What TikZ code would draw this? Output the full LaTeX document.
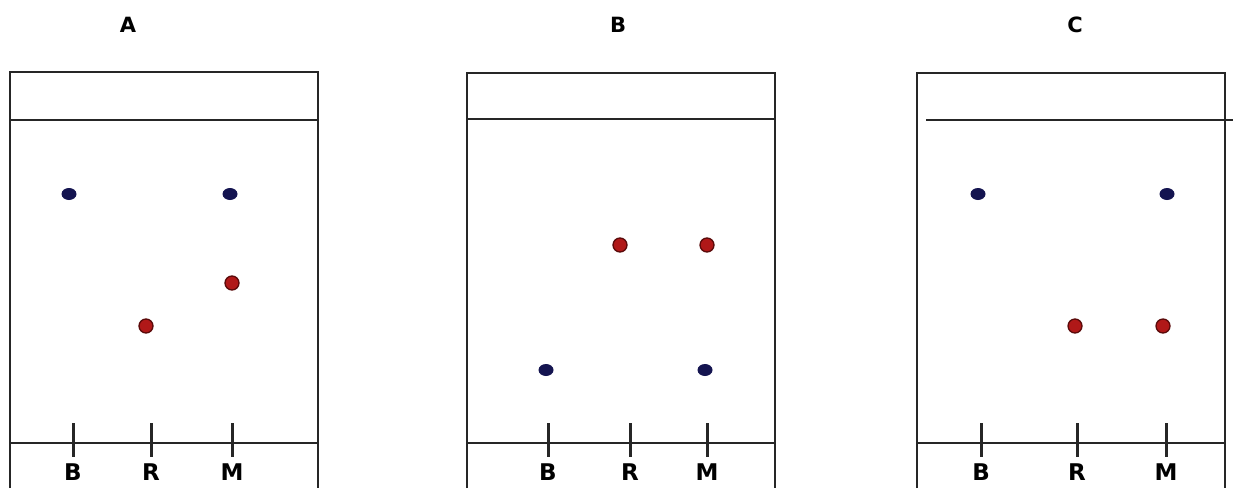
\documentclass[tikz,border=0pt]{standalone}
\usepackage{fontspec}
\setmainfont{DejaVu Sans}
\usetikzlibrary{shapes.geometric}
\definecolor{spotblue}{HTML}{141450}
\definecolor{spotred}{HTML}{B01818}
\definecolor{spotredline}{HTML}{5A0A0A}
\tikzset{
  frame/.style={line width=2.3pt, black!85},
  tick/.style={line width=3pt, black!85},
  lane/.style={font=\bfseries\fontsize{23}{23}\selectfont, inner sep=0pt, anchor=center},
  title/.style={font=\bfseries\fontsize{21}{21}\selectfont, inner sep=0pt, anchor=center},
  bspot/.style={ellipse, fill=spotblue, minimum width=15pt, minimum height=12pt, inner sep=0pt},
  rspot/.style={circle, fill=spotred, draw=spotredline, line width=1.3pt, minimum size=14pt, inner sep=0pt}
}
\begin{document}
\begin{tikzpicture}[x=1pt,y=-1pt]
\useasboundingbox (0,0) rectangle (1233,488);
% ---------- Panel A ----------
\node[title] (tA) at (128,25) {A};
\draw[frame] (10,488) -- (10,72) -- (318,72) -- (318,488);
\draw[frame] (10,120) -- (318,120);
\draw[frame] (10,443) -- (318,443);
\foreach \n/\x/\l in {aB/73/B, aR/151/R, aM/232/M}{
  \node[lane] (\n) at (\x,472) {\l};
  \coordinate (\n t) at (\x,423);
  \draw[tick] (\n t) -- ++(0,34);
}
\node[bspot] (a1) at (69,194) {};
\node[bspot] (a2) at (230,194) {};
\node[rspot] (a3) at (146,326) {};
\node[rspot] (a4) at (232,283) {};
% ---------- Panel B ----------
\node[title] (tB) at (618,25) {B};
\draw[frame] (467,488) -- (467,73) -- (775,73) -- (775,488);
\draw[frame] (467,119) -- (775,119);
\draw[frame] (467,443) -- (775,443);
\foreach \n/\x/\l in {bB/548/B, bR/630/R, bM/707/M}{
  \node[lane] (\n) at (\x,472) {\l};
  \coordinate (\n t) at (\x,423);
  \draw[tick] (\n t) -- ++(0,34);
}
\node[rspot] (b1) at (620,245) {};
\node[rspot] (b2) at (707,245) {};
\node[bspot] (b3) at (546,370) {};
\node[bspot] (b4) at (705,370) {};
% ---------- Panel C ----------
\node[title] (tC) at (1075,25) {C};
\draw[frame] (917,488) -- (917,73) -- (1225,73) -- (1225,488);
\draw[frame] (926,120) -- (1233,120);
\draw[frame] (917,443) -- (1225,443);
\foreach \n/\x/\l in {cB/981/B, cR/1077/R, cM/1166/M}{
  \node[lane] (\n) at (\x,472) {\l};
  \coordinate (\n t) at (\x,423);
  \draw[tick] (\n t) -- ++(0,34);
}
\node[bspot] (c1) at (978,194) {};
\node[bspot] (c2) at (1167,194) {};
\node[rspot] (c3) at (1075,326) {};
\node[rspot] (c4) at (1163,326) {};
\end{tikzpicture}
\end{document}
